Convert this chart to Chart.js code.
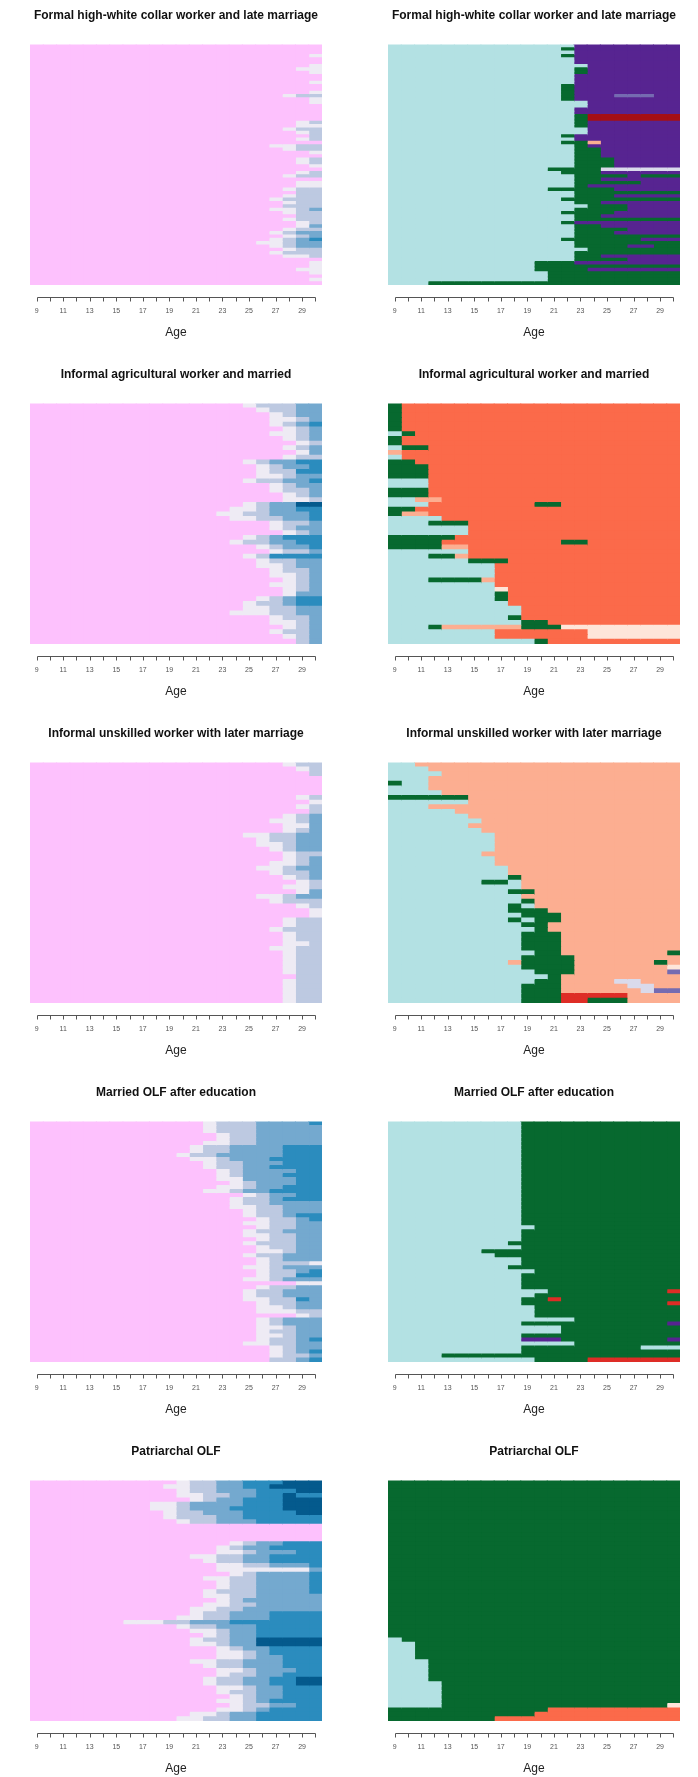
<!DOCTYPE html>
<html>
<head>
<meta charset="utf-8">
<script src="https://cdn.jsdelivr.net/npm/chart.js@4.4.1/dist/chart.umd.min.js"></script>
<style>
  html, body { margin: 0; padding: 0; background: #fff; overflow: hidden; }
  #wrap { position: relative; width: 698px; height: 1777px; }
  .panel { position: absolute; }
</style>
</head>
<body>
<div id="wrap"></div>
<script>
// ages on the x axis (one column per year)
const ages = [9, 10, 11, 12, 13, 14, 15, 16, 17, 18, 19, 20, 21, 22, 23, 24, 25, 26, 27, 28, 29, 30];

// family channel states (left column)
const famColors = {
  p: '#FDC1FD', a: '#EEEBF4', b: '#BDC9E1', c: '#74A9CF', d: '#2B8CBE', e: '#045A8D'
};
// work channel states (right column)
const workColors = {
  E: '#B3E1E3', H: '#07692F', W: '#572491', V: '#756BB1', L: '#DADAEB',
  A: '#FB6A4A', U: '#FCAE91', P: '#FEE5D9', R: '#DE2D26', D: '#A50F15'
};

const panelTitles = [
  'Formal high-white collar worker and late marriage',
  'Informal agricultural worker and married',
  'Informal unskilled worker with later marriage',
  'Married OLF after education',
  'Patriarchal OLF'
];

// each row: "count*" (optional) then state letter + last age in that state
const famFormal = [
  '3*p30', 'p29a30', '2*p30', 'p29a30', 'p28a30', 'p29a30', '2*p30', 'p29a30', '2*p30', 'p29a30',
  'p27a28b30', 'p29a30', 'p29a30', '5*p30', 'p28a29b30', 'p28a30', 'p27a28b30', 'p28a29b30',
  'p29b30', 'p28a29b30', 'p30', 'p26a28b30', 'p27a28b30', 'p29a30', 'p30', '2*p28a29b30',
  'p29a30', 'p30', 'p28a29b30', 'p27a28b30', 'p30', '2*p28a30', 'p27a28b30', 'p28b30',
  'p27a28b30', 'p26a27b30', 'p27a28b30', 'p27b30', 'p26a28b29c30', 'p27a28b30', 'p28b30',
  'p27a28b30', 'p28a29b30', 'p28a29c30', 'p27a28b30', 'p26a27b28c30', 'p27a28b29c30',
  'p26a27b28c29d30', 'p25a27b28c30', 'p26a27b28c30', 'p27a28b30', 'p26a27b30', 'p27a29b30',
  'p30', '2*p29a30', 'p28a30', 'p29a30', 'p30', 'p29a30', 'p30'
];
const workFormal = [
  'E22W30', 'E21H22W30', 'E22W30', 'E21H22W30', '2*E22W30', 'E23W30', '2*E22H23W30',
  '3*E22W30', '3*E21H22W30', 'E21H22W25V28W30', 'E21H22W30', '2*E23W30', '2*E22W30',
  '2*E22H23D30', '2*E22H23W30', '2*E23W30', 'E21H22W30', 'E22W30', 'E21H23U24W30',
  'E22H23W30', '3*E22H24W30', '3*E22H25W30', 'E20H24L30', 'E21H24W30', 'E22H26W27H30',
  'E22H24W30', 'E22H27W30', 'E22H23W30', 'E20H25W30', 'E22H30', 'E22H25W30', 'E21H30',
  'E22H24W30', 'E23H26W30', 'E22H26W30', 'E21H25W30', 'E22H24W30', 'E22H30', 'E21H22W30',
  'E22H24W30', 'E22H26W30', 'E22H25W30', 'E22H30', 'E21H27W30', 'E22H30', 'E22H26W28H30',
  'E23H30', 'E22H30', 'E22H24W30', 'E22H26W30', 'E19H22W30', 'E19H30', 'E19H23W30',
  '3*E20H30', 'E11H30'
];

const famAgri = [
  'p24a25b28c30', 'p25a26b28c30', 'p26a27b28c30', 'p26a28b29c30', 'p26a27b28c29d30',
  'p27a28b29c30', 'p26a28b29c30', 'p27a28b29c30', 'p28a29b30', 'p27a28b29c30', 'p28a29c30',
  'p27a28b30', 'p24a25b26c28d30', 'p25a26b27c29d30', 'p25a26b28d30', 'p25a27b28c30',
  'p24a25b27c29d30', 'p26a27b28c30', 'p26a27b29c30', 'p27a28b29c30', 'p27a29b30',
  'p24a25b26c28e30', 'p23a25b26c28d30', 'p22a24b26c29d30', 'p23a25b27c29d30', 'p26a27b29c30',
  'p26a27b28c30', 'p27a28b29c30', 'p24a25b26c27d30', 'p23a24b26c28d30', 'p25a26b27c29d30',
  'p26a27b29c30', 'p24a25b26d30', 'p25a26b28c30', 'p25a27b28c30', 'p26a27b29c30',
  'p26a28b29c30', 'p27a28b29c30', 'p26a28b29c30', 'p27a28b29c30', 'p27a28c30',
  'p25a26b27c28d30', 'p24a25b27c28d30', 'p24a26b28c30', 'p23a26b28c30', 'p26a27b29c30',
  'p26a28b29c30', 'p27a28b29c30', 'p26a27b29c30', 'p27a28b29c30', 'p28b29c30'
];
const workAgri = [
  '6*H9A30', 'E9H10A30', '2*H9A30', 'E9H11A30', 'U9A30', 'E9A30', 'H10A30', '3*H11A30',
  '2*E11A30', '2*H11A30', 'E10U12A30', 'E11A19H21A30', 'H10A30', 'H9U11A30', 'E12A30',
  'E11H14A30', '2*E14A30', 'H13A30', 'H12A21H23A30', 'H12U14A30', 'E14A30', 'E11H13U14A30',
  'E14H17A30', '3*E16A30', 'E11H15U16A30', 'E16A30', 'E16P17A30', '2*E16H17A30', 'E17A30',
  '2*E18A30', 'E17H18A30', 'E18H20A30', 'E11H12U18H21P30', '2*E16A23P30', 'E19H20A30'
];

const famUnskilled = [
  'p27a28b30', 'p28a29b30', 'p29b30', '4*p30', 'p28a29b30', 'p29a30', 'p28a29b30', 'p29b30',
  'p27a28b29c30', 'p26a28b29c30', 'p27a29c30', 'p27a28b29c30', 'p24a26b28c30', 'p25a26b28c30',
  'p25a27b28c30', 'p26a27b28c30', 'p27a28b30', 'p27a28b29c30', 'p26a28b29c30', 'p25a27b28c30',
  'p26a27b29c30', 'p27a28b29c30', 'p28a29b30', 'p27a29b30', 'p28a29c30', 'p25a27b28c30',
  'p26a27b30', 'p28a29b30', 'p29a30', 'p29a30', 'p27a28b30', 'p27a28b30', 'p26a27b30',
  'p27a28b30', 'p27a28b30', 'p27a29b30', 'p26a28b30', 'p27a28b30', '4*p27a28b30', 'p28b30',
  '5*p27a28b30'
];
const workUnskilled = [
  'E10U30', 'E11U30', 'E12U30', 'E11U30', 'H9E11U30', 'E11U30', 'E12U30', 'H14U30', 'E14U30',
  'E11U30', 'E13U30', 'E14U30', 'E15U30', 'E14U30', 'E15U30', '4*E16U30', 'E15U30', '2*E16U30',
  'E17U30', 'E17U30', 'E17H18U30', 'E15H17E18U30', 'E18U30', 'E17H19U30', 'E18U30', 'E18H19U30',
  'E17H18E19U30', 'E17H20U30', 'E18H21U30', 'E17H18E19H21U30', 'E18H20U30', 'E19H20U30',
  '4*E18H21U30', 'E19H21U29H30', 'E18H22U30', 'E17U18H22U28H29U30', 'E18H22U29P30',
  'E19H22U29V30', 'E20H21U30', 'E19H21U25L27U30', 'E18H21U26L28U30', 'E18H21U27L28V30',
  'E18H21R26U30', 'E18H21R23H26U30'
];

const famMarried = [
  'p21a22b25c29d30', 'p21a22b25c30', 'p21a22b25c30', 'p22a23b25c30', 'p22a23b25c30',
  'p21a23b25c30', 'p20a21b23c27d30', 'p20a21b23c27d30', 'p19a20b22c27d30', 'p20a22b23c26d30',
  'p21a22b24c27d30', 'p21a22b24c26d30', 'p22a23b24c28d30', 'p22a23b24c27d30', 'p22a24c28d30',
  'p23a24b25c28d30', 'p22a24b25c27d30', 'p21a23b24c26d30', 'p24a25b26c28d30', 'p23a24b26c27d30',
  'p23a24b26c30', 'p23a25b27c30', 'p24a25b27c30', 'p24a25b27c28d30', 'p25a26b28c29d30',
  'p24a26b28c30', 'p25a26b28c30', 'p24a25b27c30', 'p24a26b28c30', 'p25a26b28c30',
  'p24a25b28c30', 'p25a26b28c30', 'p25a27b28c30', 'p24a25b27c30', 'p25a26b27c30',
  'p25a26b29a30', 'p24a26b27c30', 'p25a26b28c29d30', 'p25a26b28d30', 'p24a26b27c30', 'p28a30',
  'p25a26b28c30', 'p24a25b27c30', 'p24a25b27c30', 'p24a26b28d29c30', 'p25a26b28c30',
  'p25a27b28c30', 'p25a28b30', 'p28a29b30', 'p25a26b27c30', 'p25a26b27c30', 'p25a27b28c30',
  'p25a26b28c30', 'p25a27b28c30', 'p25a26b28c29d30', 'p24a26b28c30', 'p26a27b28c30',
  'p26a27b28c29d30', 'p26a27b29c30', 'p26b28c29d30'
];
const workMarried = [
  '26*E18H30', 'E19H30', '3*E18H30', 'E17H30', 'E18H30', 'E15H30', 'E16H30', 'E18H30',
  'E18H30', 'E17H30', 'E19H30', '3*E18H30', 'E18H30', 'E20H29R30', 'E19H30', 'E18H20R21H30',
  'E18H29R30', '3*E19H30', 'E22H30', 'E18H29W30', '2*E21H30', 'E18H30', 'E18W21H29W30',
  'E22H30', 'E18H27E30', 'E18H30', 'E12H30', 'E19H23R30'
];

const famPatri = [
  'p19a20b22c24d27e30', 'p18a20b22c24d26e30', 'p19a20b22c25d28e30', 'p19a21b23c25d27e28d30',
  'p20a21b22c24d27e30', 'p17a19b20c24d27e30', 'p17a19b20c23d27e30', 'p18a19b21c24d28e30',
  'p18a19b22c24d30', 'p19a20b22c25d30', '4*p30', 'p23a24b25c27d30', 'p22a23b24c26d30',
  'p22a24b25c28d30', 'p20a22b24c26d30', 'p21a22b24c26d30', 'p22a24b26c29d30', 'p22a29c30',
  'p23a24b25c29d30', 'p21a23b25c29d30', 'p22a23b25c29d30', 'p22a23b25c29d30', 'p21a22b25c29d30',
  'p21a23b25c30', 'p22a23b24c30', 'p21a23b25c30', 'p20a22b24c30', 'p20a21b23c26d30',
  'p19a21b23c26d30', 'p15a18b20c23d30', 'p19a20b22c25d30', 'p20a22b23c25d30', 'p21a22b23c25d30',
  'p20a21b23c25e30', 'p20a22b23c25e30', 'p22a23b24c26d30', 'p22a24b25c26d30', 'p22a24b25c27d30',
  'p20a22b24c27d30', 'p21a22b24c27d30', 'p22a24b25c28d30', 'p22a23b25c27d30',
  'p21a22b24c26d28e30', 'p21a22b24c26d28e30', 'p22a24b25c27d30', 'p22a23b25c27d30',
  'p23a24b25c27d30', 'p22a24b25c26d30', 'p23a24b26c28d30', 'p22a24b25c26d30', 'p20a22b23c25d30',
  'p19a21b23c25d30'
];
const workPatri = [
  '36*H30', 'E9H30', '4*E10H30', '5*E11H30', '5*E12H30', 'E12H29P30', 'H20A30', 'H19A30', 'H16A30'
];

const fontFamily = '"Liberation Sans", Arial, Helvetica, sans-serif';

function expandRows(rows) {
  const out = [];
  rows.forEach(r => {
    let count = 1;
    let spec = r;
    if (r.includes('*')) {
      const parts = r.split('*');
      count = parseInt(parts[0], 10);
      spec = parts[1];
    }
    const seq = [];
    const re = /([a-zA-Z])(\d+)/g;
    let m;
    while ((m = re.exec(spec))) {
      while (seq.length < parseInt(m[2], 10) - 8) seq.push(m[1]);
    }
    for (let i = 0; i < count; i++) out.push(seq);
  });
  return out;
}

// R-style axis: line below the plot, with tick marks at every age
const rAxis = {
  id: 'rAxis',
  afterDraw(chart) {
    const { ctx, chartArea, scales: { x } } = chart;
    const y0 = Math.round(chartArea.bottom + 12) + 0.5;
    ctx.save();
    ctx.strokeStyle = '#555';
    ctx.lineWidth = 1;
    ctx.beginPath();
    ctx.moveTo(Math.round(x.getPixelForValue(ages[0])) + 0.5, y0);
    ctx.lineTo(Math.round(x.getPixelForValue(ages[ages.length - 1])) + 0.5, y0);
    ages.forEach(a => {
      const px = Math.round(x.getPixelForValue(a)) + 0.5;
      ctx.moveTo(px, y0);
      ctx.lineTo(px, y0 + 4);
    });
    ctx.stroke();
    ctx.restore();
  }
};

function drawPanel(row, col, title, rows, palette) {
  const canvas = document.createElement('canvas');
  canvas.width = 349;
  canvas.height = 359;
  canvas.className = 'panel';
  canvas.style.left = (col * 349) + 'px';
  canvas.style.top = (row * 359) + 'px';
  document.getElementById('wrap').appendChild(canvas);

  const seqs = expandRows(rows);
  const labels = seqs.map((_, i) => i + 1);
  const datasets = ages.map((age, j) => ({
    data: seqs.map(() => [age - 0.5, age + 0.5]),
    backgroundColor: seqs.map(s => palette[s[j]] || palette[s[s.length - 1]]),
    borderWidth: 0,
    barPercentage: 1,
    categoryPercentage: 1,
    grouped: false,
    inflateAmount: 0.5
  }));

  new Chart(canvas, {
    type: 'bar',
    data: { labels, datasets },
    options: {
      indexAxis: 'y',
      responsive: false,
      animation: false,
      events: [],
      layout: { padding: { left: col ? 39 : 30, right: col ? 18 : 27, top: 0, bottom: 0 } },
      plugins: {
        legend: { display: false },
        tooltip: { enabled: false },
        title: {
          display: true,
          text: title,
          color: '#111',
          font: { family: fontFamily, size: 12, weight: 'bold' },
          padding: { top: 8, bottom: 22 }
        }
      },
      scales: {
        y: { display: false },
        x: {
          type: 'linear',
          min: 8.5,
          max: 30.5,
          afterBuildTicks: s => { s.ticks = ages.map(v => ({ value: v })); },
          afterFit: s => { s.height = 74; },
          grid: { display: false, drawTicks: false },
          border: { display: false },
          ticks: {
            autoSkip: false,
            maxRotation: 0,
            padding: 22,
            color: '#555',
            font: { family: fontFamily, size: 7 },
            callback: v => (v % 2 === 1 ? v : '')
          },
          title: {
            display: true,
            text: 'Age',
            color: '#222',
            font: { family: fontFamily, size: 12 },
            padding: { top: 4, bottom: 19 }
          }
        }
      }
    },
    plugins: [rAxis]
  });
}

const famRows = [famFormal, famAgri, famUnskilled, famMarried, famPatri];
const workRows = [workFormal, workAgri, workUnskilled, workMarried, workPatri];

panelTitles.forEach((t, i) => {
  drawPanel(i, 0, t, famRows[i], famColors);
  drawPanel(i, 1, t, workRows[i], workColors);
});
</script>
</body>
</html>
